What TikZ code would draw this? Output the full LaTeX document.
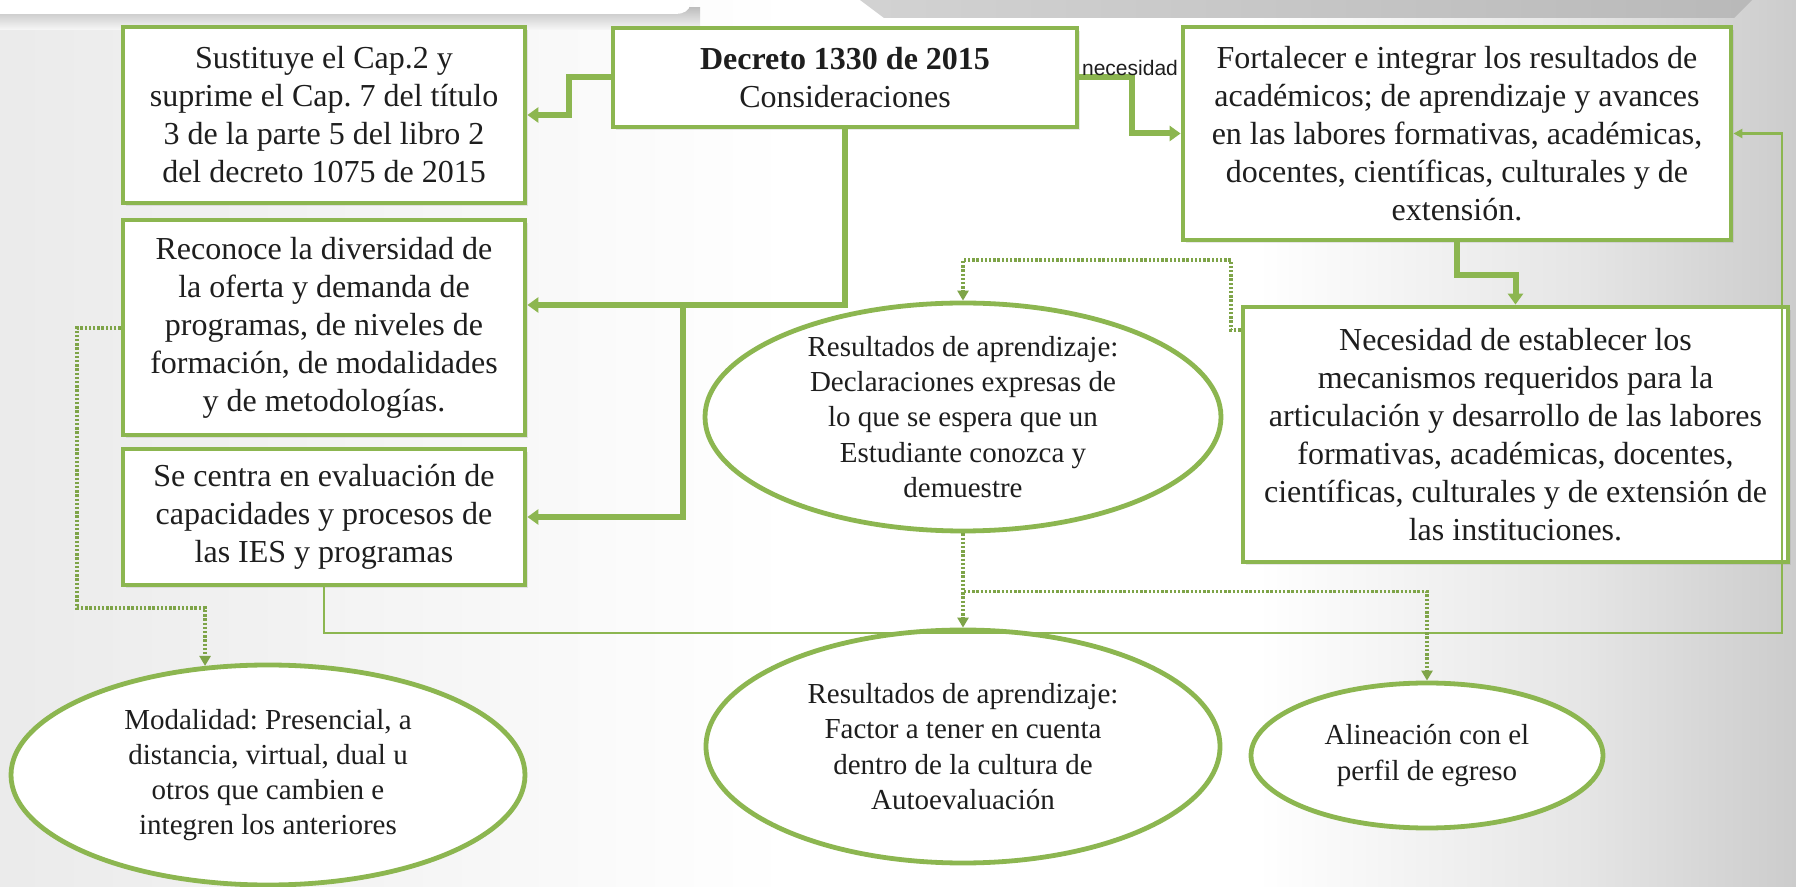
\documentclass[tikz,border=0pt]{standalone}
\usepackage{fontspec}
\setmainfont{Liberation Serif}
\newfontfamily\lsans{Liberation Sans}
\usetikzlibrary{arrows.meta,shapes.geometric,shadows,calc}
\definecolor{gr}{RGB}{140,182,80}
\definecolor{txt}{RGB}{30,30,30}
\pgfdeclarehorizontalshading{bgsh}{100bp}{color(0bp)=(black!8); color(25bp)=(black!8); color(47bp)=(white); color(60bp)=(white); color(69bp)=(black!10); color(75bp)=(black!20); color(100bp)=(black!20)}
\frenchspacing
\begin{document}
\begin{tikzpicture}[x=0.5pt,y=-0.5pt,
  box/.style={draw=gr, line width=2.4pt, fill=white, inner sep=0pt, align=center, text=txt,
    font=\fontsize{16}{19}\selectfont,
    drop shadow={opacity=0.18, shadow xshift=1.5pt, shadow yshift=-1.5pt}},
  ell/.style={ellipse, draw=gr, line width=2.4pt, fill=white, inner sep=0pt, align=center, text=txt,
    font=\fontsize{14.5}{17.6}\selectfont},
  conn/.style={draw=gr, line width=3pt, -{Triangle[length=5.5pt,width=7.5pt]}},
  dotconn/.style={draw=gr!90!black, line width=1.8pt, dash pattern=on 1.2pt off 0.9pt, -{Triangle[length=5pt,width=5.5pt]}},
  thinconn/.style={draw=gr, line width=1.1pt, -{Triangle[length=4.5pt,width=4.5pt]}}
]
\useasboundingbox (0,0) rectangle (1796,887);
% background
\shade[shading=bgsh] (0,0) rectangle (1796,887);
\shade[top color=gray!50, bottom color=gray!6] (0,8) rectangle (700,30);
\fill[white] (0,0) -- (690,0) -- (690,4) to[out=-90,in=0] (676,14) -- (0,14) -- cycle;
\shade[left color=gray!35, right color=gray!55] (860,0) -- (1752,0) -- (1734,18) -- (884,18) -- cycle;

% nodes
\node[box, minimum width=201pt, minimum height=88pt] (b1) at (324,115)
  {Sustituye el Cap.2 y\\suprime el Cap. 7 del título\\3 de la parte 5 del libro 2\\del decreto 1075 de 2015};
\node[box, minimum width=232pt, minimum height=49.5pt] (dec) at (845,77.5)
  {\textbf{Decreto 1330 de 2015}\\Consideraciones};
\node[box, minimum width=274pt, minimum height=106.5pt] (b3) at (1457,133.5)
  {Fortalecer e integrar los resultados de\\académicos; de aprendizaje y avances\\en las labores formativas, académicas,\\docentes, científicas, culturales y de\\extensión.};
\node[box, minimum width=201pt, minimum height=107.5pt] (b2) at (324,327.5)
  {Reconoce la diversidad de\\la oferta y demanda de\\programas, de niveles de\\formación, de modalidades\\y de metodologías.};
\node[box, minimum width=201pt, minimum height=68pt] (b5) at (324,517)
  {Se centra en evaluación de\\capacidades y procesos de\\las IES y programas};
\node[box, minimum width=272.5pt, minimum height=127.5pt] (b4) at (1515.5,434.5)
  {Necesidad de establecer los\\mecanismos requeridos para la\\articulación y desarrollo de las labores\\formativas, académicas, docentes,\\científicas, culturales y de extensión de\\las instituciones.};
\node[ell, minimum width=258pt, minimum height=110pt] (e1) at (963,417)
  {Resultados de aprendizaje:\\Declaraciones expresas de\\lo que se espera que un\\Estudiante conozca y\\demuestre};
\node[ell, minimum width=257pt, minimum height=110pt] (e2) at (268,775)
  {Modalidad: Presencial, a\\distancia, virtual, dual u\\otros que cambien e\\integren los anteriores};
\node[ell, minimum width=257pt, minimum height=116.5pt] (e3) at (963,746.5)
  {Resultados de aprendizaje:\\Factor a tener en cuenta\\dentro de la cultura de\\Autoevaluación};
\node[ell, minimum width=176pt, minimum height=72.5pt] (e4) at (1427,755.5)
  {Alineación con el\\perfil de egreso};

% connectors
\draw[conn] (dec.west) -- ++(-42,0) |- (b1.east);
\draw[conn] (dec.east) -- ++(53,0) |- (b3.west);
\node[font=\lsans\fontsize{10.5}{12}\selectfont, text=txt, inner sep=0pt] (nec) at (1130,68) {necesidad};
\coordinate (j1) at (dec.south |- 0,305);
\coordinate (j2) at (683,305);
\draw[conn] (dec.south) -- (j1) -- (j1 -| b2.east);
\draw[conn] (j2) |- (b5.east);
\draw[conn] (b3.south) -- ++(0,33) -| (b4.north);
\coordinate (c1) at (1782,633);
\draw[thinconn] (b5.south) |- (c1) |- (b3.east);
\draw[dotconn] (b4.west |- 0,330) -- (1231,330) |- (e1.north |- 0,260) -- (e1.north);
\draw[dotconn] (b2.west |- 0,328) -- (77,328) |- (e2.120 |- 0,608) -- (e2.120);
\draw[dotconn] (e1.south) -- (e3.north);
\draw[dotconn] (e1.south) -- ++(0,58) -| (e4.north);
\end{tikzpicture}
\end{document}
